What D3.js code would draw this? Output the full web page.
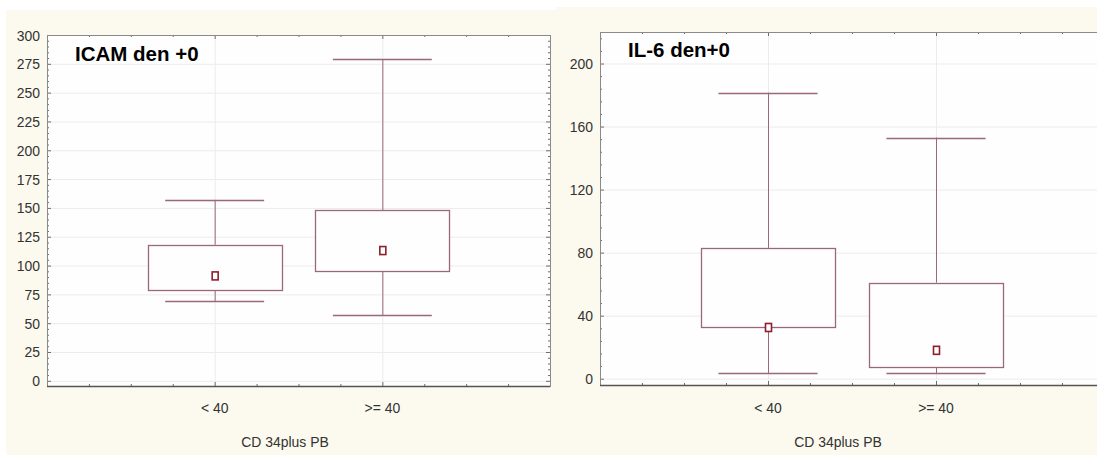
<!DOCTYPE html>
<html>
<head>
<meta charset="utf-8">
<script src="https://cdn.jsdelivr.net/npm/d3@7"></script>
<style>
  html, body { margin: 0; padding: 0; background: #fff; }
  svg { display: block; font-family: Arial, "Liberation Sans", sans-serif; }
</style>
</head>
<body>
<svg id="chart" width="1097" height="455"></svg>
<script>
/* ---------- Daten ---------- */
const categories = ["< 40", ">= 40"];

const icamMin  = [69, 57],
      icamQ1   = [79, 95],
      icamMean = [91, 113],
      icamQ3   = [118, 148],
      icamMax  = [157, 279];
const icamTicks = [0, 25, 50, 75, 100, 125, 150, 175, 200, 225, 250, 275, 300];

const il6Min  = [3.5, 3.5],
      il6Q1   = [33, 7.5],
      il6Mean = [32.5, 18],
      il6Q3   = [83, 61],
      il6Max  = [181.5, 153];
const il6Ticks = [0, 40, 80, 120, 160, 200];

/* ---------- Setup ---------- */
const svg = d3.select("#chart");
const boxColor  = "#9a6877",
      meanColor = "#8c1f2e",
      axisColor = "#6e6e6e",
      gridColor = "#ececec",
      cream     = "#fcf9ee";

svg.append("rect").attr("x", 6).attr("y", 10).attr("width", 560).attr("height", 445).attr("fill", cream);
svg.append("rect").attr("x", 556).attr("y", 7).attr("width", 541).attr("height", 448).attr("fill", cream);

// schmale Schrift wie im Original (leicht gestaucht)
const narrow = (sel, x, y) => sel.attr("transform", `translate(${x},${y}) scale(0.9,1)`);

function drawPanel(p) {
  const g = svg.append("g");
  const x = d3.scaleLinear().domain([0, 3]).range([p.left, p.right]);
  const y = d3.scaleLinear().domain(p.yDomain).range([p.bottom, p.top]);

  // plot area
  g.append("rect")
    .attr("x", p.left).attr("y", p.top)
    .attr("width", p.right - p.left).attr("height", p.bottom - p.top)
    .attr("fill", "#fefefe");

  // grid
  g.selectAll(".hgrid").data(p.ticks).enter().append("line")
    .attr("x1", p.left).attr("x2", p.right)
    .attr("y1", d => y(d) + 0.5).attr("y2", d => y(d) + 0.5)
    .attr("stroke", gridColor);
  g.selectAll(".vgrid").data([1, 2]).enter().append("line")
    .attr("x1", d => x(d) + 0.5).attr("x2", d => x(d) + 0.5)
    .attr("y1", p.top).attr("y2", p.bottom)
    .attr("stroke", gridColor);

  // minor ticks on y axis (left & right frame)
  const step = p.ticks[1] - p.ticks[0];
  const yMinor = d3.range(p.ticks[0], p.yDomain[1] + 0.001, step / 5).filter(v => y(v) >= p.top);
  g.selectAll(".ymin").data(yMinor).enter().append("line")
    .attr("x1", p.left).attr("x2", d => p.left + (p.ticks.includes(+d.toFixed(3)) ? 4 : 2))
    .attr("y1", d => y(d) + 0.5).attr("y2", d => y(d) + 0.5)
    .attr("stroke", axisColor);
  g.selectAll(".yminr").data(yMinor).enter().append("line")
    .attr("x1", p.right).attr("x2", d => p.right - (p.ticks.includes(+d.toFixed(3)) ? 4 : 2))
    .attr("y1", d => y(d) + 0.5).attr("y2", d => y(d) + 0.5)
    .attr("stroke", axisColor);

  // x ticks every 0.25 (bottom and top)
  const xMinor = d3.range(0.25, 3, 0.25);
  g.selectAll(".xminb").data(xMinor).enter().append("line")
    .attr("x1", d => x(d) + 0.5).attr("x2", d => x(d) + 0.5)
    .attr("y1", p.bottom).attr("y2", d => p.bottom - (d % 1 === 0 ? 4 : 2))
    .attr("stroke", axisColor);
  g.selectAll(".xmint").data(xMinor).enter().append("line")
    .attr("x1", d => x(d) + 0.5).attr("x2", d => x(d) + 0.5)
    .attr("y1", p.top).attr("y2", d => p.top + (d % 1 === 0 ? 4 : 2))
    .attr("stroke", axisColor);

  // frame
  g.append("rect")
    .attr("x", p.left + 0.5).attr("y", p.top + 0.5)
    .attr("width", p.right - p.left).attr("height", p.bottom - p.top)
    .attr("fill", "none").attr("stroke", "#8a8a8a");
  g.append("line")
    .attr("x1", p.left).attr("x2", p.right)
    .attr("y1", p.bottom + 0.5).attr("y2", p.bottom + 0.5)
    .attr("stroke", "#555").attr("stroke-width", 1.5);

  // y labels
  g.selectAll(".ylab").data(p.ticks).enter().append("text")
    .each(function(d) { narrow(d3.select(this), p.left - 7, y(d) + 5.5); })
    .attr("text-anchor", "end").attr("font-size", 15.5).attr("fill", "#333")
    .text(d => d);

  // x labels
  g.selectAll(".xlab").data(categories).enter().append("text")
    .each(function(d, i) { narrow(d3.select(this), x(i + 1), 413); })
    .attr("text-anchor", "middle").attr("font-size", 15.5).attr("fill", "#333")
    .text(d => d);

  narrow(g.append("text"), p.left + 238, 447)
    .attr("text-anchor", "middle").attr("font-size", 15.5).attr("fill", "#333")
    .text("CD 34plus PB");

  // boxes
  const bw = 0.8, cw = 0.59;
  categories.forEach((c, i) => {
    const cx = x(i + 1);
    const hb = (x(bw) - x(0)) / 2, hc = (x(cw) - x(0)) / 2;
    // whiskers
    g.append("line").attr("x1", cx + 0.5).attr("x2", cx + 0.5)
      .attr("y1", y(p.max[i])).attr("y2", y(p.q3[i])).attr("stroke", boxColor);
    g.append("line").attr("x1", cx + 0.5).attr("x2", cx + 0.5)
      .attr("y1", y(p.q1[i])).attr("y2", y(p.min[i])).attr("stroke", boxColor);
    g.append("line").attr("x1", cx - hc).attr("x2", cx + hc)
      .attr("y1", Math.round(y(p.max[i])) + 0.5).attr("y2", Math.round(y(p.max[i])) + 0.5)
      .attr("stroke", boxColor).attr("stroke-width", 1.3);
    g.append("line").attr("x1", cx - hc).attr("x2", cx + hc)
      .attr("y1", Math.round(y(p.min[i])) + 0.5).attr("y2", Math.round(y(p.min[i])) + 0.5)
      .attr("stroke", boxColor).attr("stroke-width", 1.3);
    // box
    g.append("rect")
      .attr("x", Math.round(cx - hb) + 0.5).attr("y", Math.round(y(p.q3[i])) + 0.5)
      .attr("width", Math.round(2 * hb)).attr("height", Math.round(y(p.q1[i]) - y(p.q3[i])))
      .attr("fill", "#fefefe").attr("stroke", boxColor).attr("stroke-width", 1.3);
    // mean point
    g.append("rect")
      .attr("x", cx - 2.5).attr("y", y(p.mean[i]) - 4)
      .attr("width", 6).attr("height", 8)
      .attr("fill", "#fff").attr("stroke", meanColor).attr("stroke-width", 1.6);
  });

  // title
  g.append("text")
    .attr("x", p.titleX).attr("y", p.titleY)
    .attr("font-size", 20.5).attr("font-weight", "bold").attr("fill", "#000")
    .text(p.title);
}

drawPanel({
  left: 47, right: 550, top: 35, bottom: 386,
  yDomain: [-4.5, 300], ticks: icamTicks,
  min: icamMin, q1: icamQ1, mean: icamMean, q3: icamQ3, max: icamMax,
  title: "ICAM den +0", titleX: 75, titleY: 61
});

drawPanel({
  left: 600, right: 1104, top: 32, bottom: 385,
  yDomain: [-4, 220], ticks: il6Ticks,
  min: il6Min, q1: il6Q1, mean: il6Mean, q3: il6Q3, max: il6Max,
  title: "IL-6 den+0", titleX: 628, titleY: 57
});
</script>
</body>
</html>
